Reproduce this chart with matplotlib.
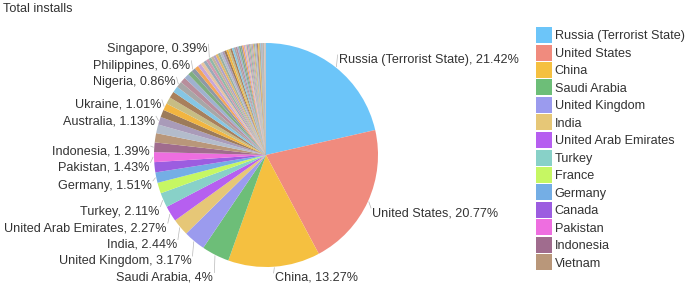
import numpy as np
import matplotlib
matplotlib.use("Agg")
import matplotlib.pyplot as plt
from matplotlib.patches import Patch

plt.rcParams['font.family'] = ['Liberation Sans', 'DejaVu Sans']

# ---------------- data ----------------
countries = [
    "Russia (Terrorist State)", "United States", "China", "Saudi Arabia",
    "United Kingdom", "India", "United Arab Emirates", "Turkey", "France",
    "Germany", "Canada", "Pakistan", "Indonesia", "Vietnam", "Brazil",
    "Australia", "Iran", "Ukraine", "Kazakhstan", "Egypt", "Poland",
    "Nigeria", "Italy", "Spain", "Malaysia", "Philippines", "Bangladesh",
    "Netherlands", "Thailand", "Japan", "South Korea", "Singapore",
    "Mexico", "Qatar", "Kuwait", "Israel", "Uzbekistan", "Iraq", "Morocco",
    "Algeria", "Belarus", "Azerbaijan", "Argentina", "Switzerland", "Sweden",
    "Romania", "Oman", "Jordan", "Kenya", "Czech Republic", "Belgium",
    "South Africa", "Georgia", "Greece", "Portugal", "Armenia", "Austria",
    "Norway", "Bahrain", "Finland", "Denmark", "Colombia", "Serbia",
    "Ireland", "Hungary", "Lebanon", "Sri Lanka", "Nepal", "Chile", "Peru",
    "Tunisia", "Kyrgyzstan", "Latvia", "Lithuania", "Estonia", "Moldova",
    "Cyprus", "Mongolia", "Ghana", "Tajikistan",
]
installs_pct = [
    21.42, 20.77, 13.27, 4.0,
    3.17, 2.44, 2.27, 2.11, 1.55,
    1.51, 1.47, 1.43, 1.39, 1.33, 1.25,
    1.13, 1.08, 1.01, 0.98, 0.94, 0.90,
    0.86, 0.80, 0.72, 0.66, 0.60, 0.55,
    0.50, 0.47, 0.44, 0.42, 0.39,
    0.37, 0.36, 0.35, 0.34, 0.33, 0.32, 0.31,
    0.30, 0.29, 0.28, 0.27, 0.26, 0.25,
    0.24, 0.23, 0.22, 0.22, 0.21, 0.20,
    0.20, 0.19, 0.18, 0.18, 0.17, 0.16,
    0.15, 0.15, 0.14, 0.13, 0.12, 0.12,
    0.11, 0.10, 0.10, 0.09, 0.08, 0.07, 0.06,
    0.05, 0.05, 0.04, 0.04, 0.03, 0.03,
    0.02, 0.02, 0.02, 0.02,
]
labeled = [
    "Russia (Terrorist State)", "United States", "China", "Saudi Arabia",
    "United Kingdom", "India", "United Arab Emirates", "Turkey", "Germany",
    "Pakistan", "Indonesia", "Australia", "Ukraine", "Nigeria",
    "Philippines", "Singapore",
]
legend_count = 14
title = "Total installs"

# ---------------- style ----------------
base_colors = ['#6cc5f9', '#f08b7e', '#f5c040', '#6dbe78', '#9b9bee',
               '#e6c777', '#b65ff0', '#88d1c8', '#c6f763', '#74aee5',
               '#9c5de0', '#ee6ee0', '#a06c8e', '#b9977a']
extra_colors = ['#b3bccb', '#a99bb9', '#9c7b5a', '#f2b540', '#c7bd84',
                '#a8805c', '#86c6e4', '#a7a7a7', '#b88e9c', '#9fb1cf',
                '#7fae80', '#8e98a6', '#f3a65a', '#c8a6d8', '#e8c4a0',
                '#9aa9b9', '#d09bb0', '#8fb8a8', '#c4b49a', '#b0a0c8',
                '#e4b86a', '#99b0a0']
colors = [base_colors[i] if i < len(base_colors)
          else extra_colors[(i - len(base_colors)) % len(extra_colors)]
          for i in range(len(installs_pct))]

W, H = 689, 288
fig = plt.figure(figsize=(W / 100, H / 100), dpi=100)
ax = fig.add_axes([0, 0, 1, 1])

cx, cy_px, r = 266, 155, 112
cy = H - cy_px
wedges, _ = ax.pie(installs_pct, colors=colors, startangle=90,
                   counterclock=False, center=(cx, cy), radius=r,
                   wedgeprops=dict(linewidth=0))
ax.set_xlim(0, W)
ax.set_ylim(0, H)
ax.set_aspect('equal')
ax.axis('off')

text_color = '#333333'
fs = 9.1
fs_px = fs * 100 / 72

# ---------------- labels ----------------
Rx, Ry, yoff, gap = 116.5, 128, 5, 16.5
left, right = [], []
for w, name, v in zip(wedges, countries, installs_pct):
    if name not in labeled:
        continue
    phi = np.deg2rad((w.theta1 + w.theta2) / 2)
    lx = cx + Rx * np.cos(phi)
    ly_px = cy_px - Ry * np.sin(phi) + yoff
    edge = (cx + (r + 1) * np.cos(phi), cy + (r + 1) * np.sin(phi))
    item = dict(text=f"{name}, {v:g}%", x=lx, y=ly_px, edge=edge)
    (right if np.cos(phi) >= 0 else left).append(item)

def spread(items):
    items.sort(key=lambda d: d['y'])
    for i in range(1, len(items)):
        if items[i]['y'] - items[i - 1]['y'] < gap:
            items[i]['y'] = items[i - 1]['y'] + gap
    ymax = 278
    if items and items[-1]['y'] > ymax:
        items[-1]['y'] = ymax
        for i in range(len(items) - 2, -1, -1):
            if items[i + 1]['y'] - items[i]['y'] < gap:
                items[i]['y'] = items[i + 1]['y'] - gap

spread(left)
spread(right)

for side, items in (('left', left), ('right', right)):
    for it in items:
        yd = H - it['y']
        if side == 'left':
            ax.text(it['x'], yd, it['text'], ha='right', va='center',
                    fontsize=fs, color=text_color)
            end = (it['x'] + 1, yd + 5)
        else:
            ax.text(it['x'], yd, it['text'], ha='left', va='center',
                    fontsize=fs, color=text_color)
            end = (it['x'] - 1, yd + 5)
        ax.plot([it['edge'][0], end[0]], [it['edge'][1], end[1]],
                color='#b8b8b8', lw=0.5, zorder=0)

# ---------------- title ----------------
fig.text(3 / W, 1 - 9.5 / H, title, ha='left', va='center',
         fontsize=fs, color=text_color)

# ---------------- legend ----------------
sw = 16.0
hh = (sw / fs_px - 0.245) / 0.65
handles = [Patch(facecolor=colors[i], edgecolor='none') for i in range(legend_count)]
fig.legend(handles, countries[:legend_count], loc='upper left',
           bbox_to_anchor=(536 / W, 1 - 27 / H), frameon=False,
           borderpad=0, borderaxespad=0, handlelength=sw / fs_px,
           handleheight=hh, handletextpad=0.2, labelspacing=1.5 / fs_px,
           fontsize=fs, labelcolor=text_color)

fig.savefig('out.png', dpi=100)
